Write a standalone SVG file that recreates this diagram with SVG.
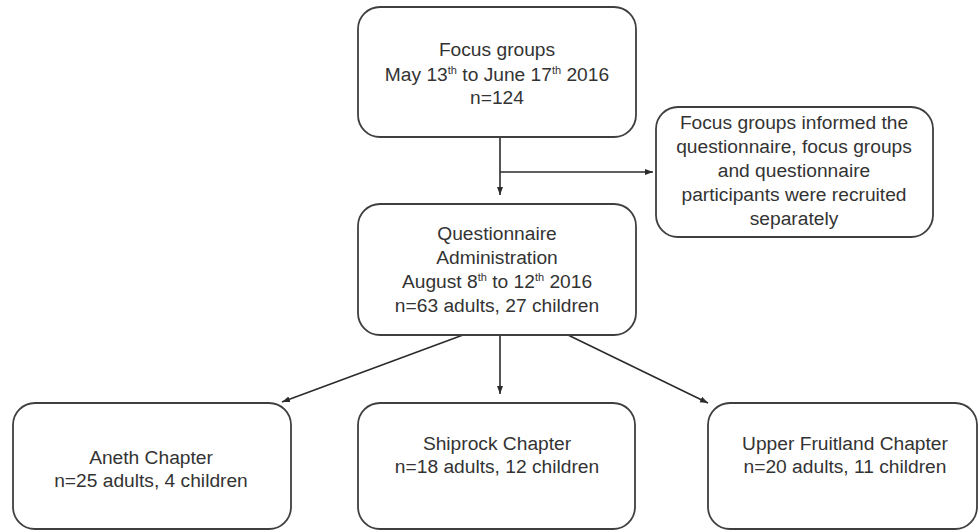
<svg xmlns="http://www.w3.org/2000/svg" width="979" height="531" viewBox="0 0 979 531">
  <defs>
    <marker id="arr" markerUnits="userSpaceOnUse" markerWidth="8" markerHeight="8" viewBox="0 0 8 8" refX="8" refY="4" orient="auto">
      <path d="M0,1 L8,4 L0,7 Z" fill="#2b2b2b"/>
    </marker>
  </defs>
  <style>
    .box { fill: #ffffff; stroke: #3f3f3f; stroke-width: 1.8; }
    .lbl { font-family: "Liberation Sans", Arial, sans-serif; font-size: 19.2px; fill: #333333; text-anchor: middle; }
    .sup { font-size: 11px; }
    .conn { stroke: #2b2b2b; stroke-width: 1.6; fill: none; }
  </style>
  <rect width="979" height="531" fill="#ffffff"/>

  <g id="connectors">
    <line class="conn" x1="500" y1="137" x2="500" y2="195" marker-end="url(#arr)"/>
    <line class="conn" x1="500" y1="172" x2="653" y2="172" marker-end="url(#arr)"/>
    <line class="conn" x1="463" y1="335" x2="282" y2="402" marker-end="url(#arr)"/>
    <line class="conn" x1="500" y1="335" x2="500" y2="394" marker-end="url(#arr)"/>
    <line class="conn" x1="568" y1="335" x2="708" y2="403" marker-end="url(#arr)"/>
  </g>

  <g id="focus-groups">
    <rect class="box" x="358" y="7" width="278" height="130" rx="22" ry="22"/>
    <text class="lbl" x="497" y="56">Focus groups</text>
    <text class="lbl" x="497" y="81">May 13<tspan class="sup" dy="-7">th</tspan><tspan dy="7"> to June 17</tspan><tspan class="sup" dy="-7">th</tspan><tspan dy="7"> 2016</tspan></text>
    <text class="lbl" x="497" y="104">n=124</text>
  </g>

  <g id="note">
    <rect class="box" x="656" y="107" width="277" height="130" rx="22" ry="22"/>
    <text class="lbl" x="794" y="129">Focus groups informed the</text>
    <text class="lbl" x="794" y="153">questionnaire, focus groups</text>
    <text class="lbl" x="794" y="177">and questionnaire</text>
    <text class="lbl" x="794" y="201">participants were recruited</text>
    <text class="lbl" x="794" y="225">separately</text>
  </g>

  <g id="questionnaire">
    <rect class="box" x="358" y="204" width="278" height="131" rx="22" ry="22"/>
    <text class="lbl" x="497" y="240">Questionnaire</text>
    <text class="lbl" x="497" y="264">Administration</text>
    <text class="lbl" x="497" y="288">August 8<tspan class="sup" dy="-7">th</tspan><tspan dy="7"> to 12</tspan><tspan class="sup" dy="-7">th</tspan><tspan dy="7"> 2016</tspan></text>
    <text class="lbl" x="497" y="312">n=63 adults, 27 children</text>
  </g>

  <g id="aneth">
    <rect class="box" x="13" y="403" width="278" height="126" rx="22" ry="22"/>
    <text class="lbl" x="151" y="464">Aneth Chapter</text>
    <text class="lbl" x="151" y="487">n=25 adults, 4 children</text>
  </g>

  <g id="shiprock">
    <rect class="box" x="358" y="403" width="277" height="126" rx="22" ry="22"/>
    <text class="lbl" x="497" y="450">Shiprock Chapter</text>
    <text class="lbl" x="497" y="473">n=18 adults, 12 children</text>
  </g>

  <g id="upper-fruitland">
    <rect class="box" x="708" y="403" width="269" height="126" rx="22" ry="22"/>
    <text class="lbl" x="845" y="450">Upper Fruitland Chapter</text>
    <text class="lbl" x="845" y="473">n=20 adults, 11 children</text>
  </g>
</svg>
